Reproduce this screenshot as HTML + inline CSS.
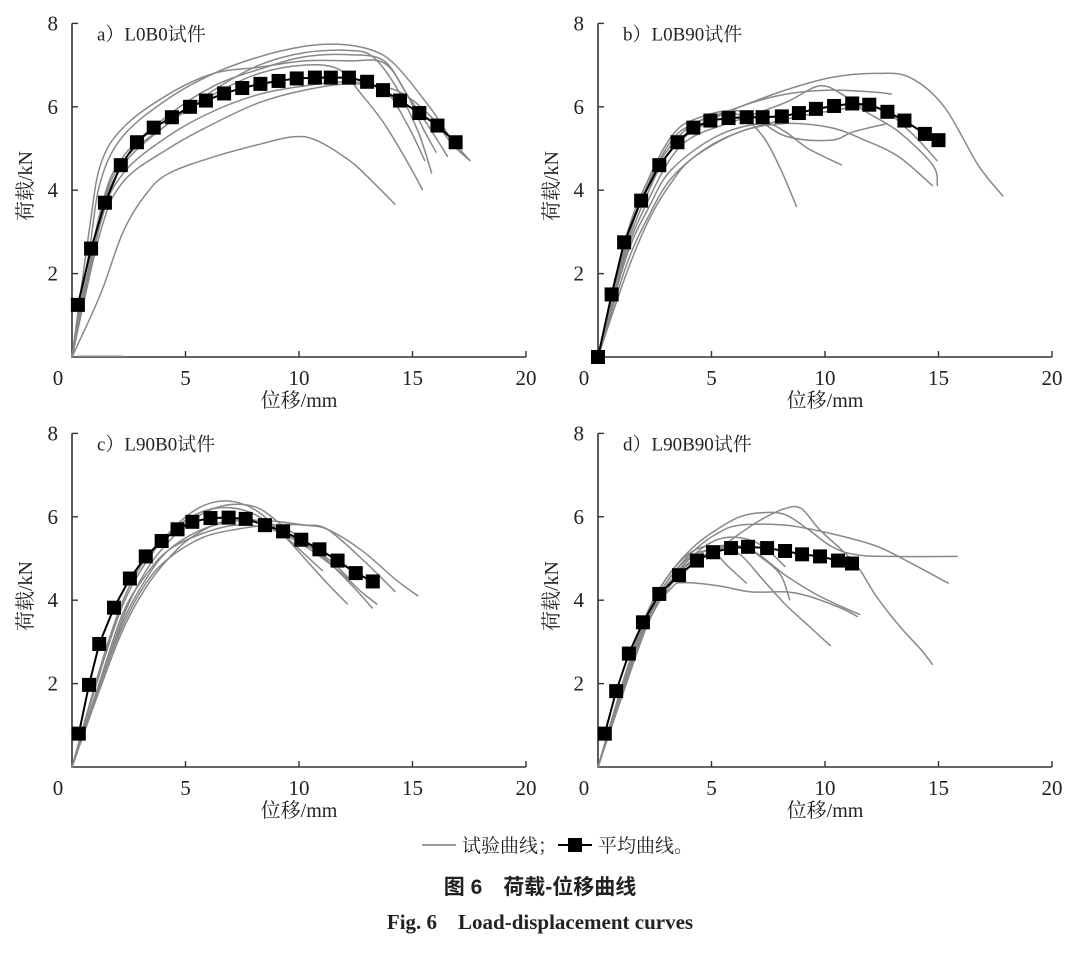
<!DOCTYPE html>
<html><head><meta charset="utf-8"><style>
body{margin:0;background:#fff}
svg text{font-family:"Liberation Serif","Noto Serif CJK SC",serif;fill:#222}
</style></head><body>
<svg id="fig" width="1080" height="952" viewBox="0 0 1080 952" xmlns="http://www.w3.org/2000/svg">
<g id="panels"></g>
<g>
<line x1="422" y1="845" x2="456" y2="845" stroke="#777" stroke-width="1.5"/>
<text x="462" y="852" font-size="19">试验曲线；</text>
<line x1="558" y1="845" x2="592" y2="845" stroke="#000" stroke-width="2"/>
<rect x="568" y="838" width="14" height="14" fill="#000"/>
<text x="598" y="852" font-size="19">平均曲线。</text>
</g>
<text x="540" y="894" font-size="21" font-weight="bold" text-anchor="middle" style="font-family:'Liberation Sans','Noto Sans CJK SC',sans-serif">图 6　荷载-位移曲线</text>
<text x="540" y="929" font-size="21" font-weight="bold" text-anchor="middle">Fig. 6　Load-displacement curves</text>
</svg>
<script>
const panelTitles=["a）L0B0试件","b）L0B90试件","c）L90B0试件","d）L90B90试件"];
const xTicks=[0,5,10,15,20];
const yTicks=[2,4,6,8];
const avgA_x=[0.26,0.84,1.45,2.15,2.86,3.6,4.4,5.2,5.9,6.7,7.5,8.3,9.1,9.9,10.7,11.4,12.2,13,13.7,14.45,15.3,16.1,16.9];
const avgA_y=[1.25,2.6,3.7,4.6,5.15,5.5,5.75,6,6.15,6.32,6.45,6.55,6.62,6.68,6.7,6.7,6.7,6.6,6.4,6.15,5.85,5.55,5.15];
const avgB_x=[0,0.6,1.15,1.9,2.7,3.5,4.2,4.95,5.75,6.55,7.25,8.1,8.85,9.6,10.4,11.2,11.95,12.75,13.5,14.4,15];
const avgB_y=[0,1.5,2.75,3.75,4.6,5.15,5.5,5.67,5.73,5.75,5.75,5.77,5.85,5.95,6.02,6.08,6.05,5.88,5.67,5.35,5.2];
const avgC_x=[0.3,0.75,1.2,1.85,2.55,3.25,3.95,4.65,5.3,6.1,6.9,7.65,8.5,9.3,10.1,10.9,11.7,12.5,13.25];
const avgC_y=[0.8,1.97,2.95,3.82,4.52,5.05,5.42,5.7,5.88,5.97,5.98,5.95,5.8,5.65,5.45,5.22,4.95,4.65,4.45];
const avgD_x=[0.3,0.8,1.36,1.98,2.7,3.57,4.36,5.07,5.86,6.61,7.45,8.24,8.99,9.78,10.57,11.19];
const avgD_y=[0.8,1.82,2.72,3.47,4.15,4.6,4.95,5.15,5.25,5.28,5.25,5.18,5.1,5.05,4.95,4.88];
const testA=[
[[0,0],[0.5,2.5],[1,4.2],[2,5.3],[4,6.2],[6,6.8],[8,7.2],[10,7.45],[11.5,7.5],[13,7.35],[14,7.0],[15.5,6.0],[16.5,5.2],[17.3,4.7]],
[[0,0],[0.5,3],[1,4.6],[2,5.5],[4,6.3],[6,6.8],[8,6.95],[10,7.1],[12,7.1],[13.5,7.05],[14.5,6.3],[15.2,5.5],[15.8,4.9]],
[[0,0],[1,3.5],[2,4.8],[4,5.8],[6,6.5],[8,6.9],[10,7.2],[12,7.25],[13.5,7.1],[14.5,6.3],[15.5,5.5],[16.3,4.8]],
[[0,0],[1,3.3],[2,4.6],[4,5.6],[6,6.3],[8,6.8],[10,7],[11.5,6.9],[12.5,6.3],[13.5,5.6],[14.5,4.7],[15.2,4.0]],
[[0,0],[1,3.2],[2,4.4],[4,5.3],[6,5.9],[8,6.3],[10,6.5],[12,6.6],[13.5,6.4],[14.5,5.6],[15.3,4.7]],
[[0,0],[1,3],[2,4.2],[4,5.0],[6,5.6],[8,6.1],[10,6.4],[12,6.55],[14,6.4],[15.5,5.8],[16.5,5.1],[17.3,4.7]],
[[0,0],[1,1.5],[2,3],[3,3.9],[4,4.4],[6,4.8],[8,5.1],[9.5,5.28],[10.5,5.2],[12,4.7],[13,4.2],[14,3.65]],
[[0,0],[1,3.4],[2,4.7],[4,5.6],[6,6.4],[8,7],[10,7.3],[12,7.35],[13,7.2],[14,6.5],[15,5.4],[15.6,4.4]],
[[0,0.02],[2,0.02]]];
const testB=[
[[0,0],[1,2.8],[2,4.2],[3,5.2],[4,5.6],[6,6],[8,6.4],[10,6.7],[12,6.8],[13.5,6.7],[15,6.0],[16.5,4.6],[17.6,3.85]],
[[0,0],[1,2.7],[2,4.2],[3,5.1],[4,5.6],[5,5.8],[6,5.8],[7,5.3],[7.8,4.5],[8.5,3.6]],
[[0,0],[1,2.5],[2,3.8],[3,4.8],[4,5.3],[6,5.7],[8,6.1],[9.5,6.5],[10.5,6.3],[11.5,5.9],[13,5.4],[14.5,4.6],[14.7,4.1]],
[[0,0],[1,2.4],[2,3.6],[3,4.5],[5,5.3],[7,5.6],[8,5.4],[9,5.0],[10.5,4.6]],
[[0,0],[1,2],[2,3.3],[3,4.2],[4,4.8],[6,5.4],[8,5.6],[10,5.5],[11.5,5.2],[13,4.8],[14.5,4.1]],
[[0,0],[1,2.9],[2,4.3],[3,5.3],[4,5.7],[6,5.9],[8,5.3],[10,5.2],[11,5.4],[12.5,5.6]],
[[0,0],[1,2.6],[2,4],[3,5],[4.5,5.6],[6,6],[8,6.3],[10,6.4],[12,6.35],[12.7,6.3]],
[[0,0],[1,2.2],[2,3.4],[3,4.3],[4.5,5],[6,5.4],[8,5.7],[10,5.9],[12,6.0],[13.5,5.4],[14.7,4.7]]];
const testC=[
[[0,0],[1,2.3],[2,3.9],[3,4.9],[4,5.6],[5,6.1],[6,6.35],[7,6.35],[8,6.1],[9,5.6],[10,5],[11,4.4],[11.9,3.9]],
[[0,0],[1,2],[2,3.6],[3,4.7],[4,5.4],[5,5.9],[6,6.2],[7,6.3],[8,6.2],[9,5.8],[10.5,5.2],[12,4.4],[13,3.8]],
[[0,0],[1,2],[2,3.5],[3,4.5],[4,5.2],[5.5,5.7],[7,5.9],[8.5,5.9],[10,5.8],[11,5.7],[12.5,5.2],[14,4.5],[15,4.1]],
[[0,0],[1,2.1],[2,3.7],[3,4.6],[4,5.2],[5.5,5.6],[7,5.8],[8.5,5.7],[10,5.3],[11.5,4.7],[12.5,4.2],[13.2,3.9]],
[[0,0],[1,2],[2,3.4],[3,4.4],[4,5.0],[5.5,5.5],[7,5.7],[8.5,5.8],[10,5.8],[11,5.7],[12.5,5.0],[14,4.2]],
[[0,0],[1,2.4],[2,4],[3,5.0],[4,5.6],[5,6],[6,6.2],[7,6.2],[8,6],[9,5.6],[10,5.1],[10.8,4.7]],
[[0,0],[1,1.9],[2,3.3],[3,4.3],[4,5],[5,5.5],[6.5,5.9],[8,5.9],[9.5,5.5],[11,5],[12,4.5]]];
const testD=[
[[0,0],[1,2],[2,3.5],[3,4.4],[4,4.9],[5,5.2],[6,5.6],[7,5.95],[8,6.2],[8.7,6.2],[9.5,5.7],[10.5,5.2],[11.2,4.8],[12,4.1],[13,3.4],[14,2.8],[14.5,2.45]],
[[0,0],[1,2.3],[2,3.8],[3,4.7],[4,5.3],[5,5.7],[6,6],[7,6.1],[8,6.05],[9,5.7],[10,5.3],[11,5.1],[12.5,5.05],[15.6,5.05]],
[[0,0],[1,2.2],[2,3.7],[3,4.6],[4,5.2],[5,5.6],[6,5.8],[8,5.8],[10,5.6],[12,5.3],[13.5,4.9],[15.2,4.4]],
[[0,0],[1,2.2],[2,3.6],[3,4.3],[3.5,4.42],[5,4.35],[6.5,4.2],[8,4.2],[9,4.1],[10.5,3.8],[11.2,3.6]],
[[0,0],[1,2.3],[2,3.8],[3,4.7],[4,5.2],[5,5.3],[6,5.1],[7,4.5],[8,3.9],[9,3.4],[10,2.9]],
[[0,0],[1,2.1],[2,3.6],[3,4.5],[4,5],[5,5.3],[6.5,5.2],[8,4.6],[9.5,4.1],[11.3,3.65]],
[[0,0],[1,2.2],[2,3.7],[3,4.6],[4,5.1],[4.8,5.15],[5.5,4.8],[6.3,4.4]],
[[0,0],[1,2.1],[2,3.6],[3,4.5],[4.5,5.1],[6,5.3],[7,5.0],[7.8,4.6],[8.2,4.0]],
[[0,0],[1,2.1],[2,3.6],[3,4.5],[4,5.1],[5,5.45],[6,5.5],[7,5.3],[8,4.8]]];

const NS="http://www.w3.org/2000/svg";
const root=document.getElementById('panels');
const panels=[
 {x0:72,y0:357,tests:testA,ax:avgA_x,ay:avgA_y,key:'a'},
 {x0:598,y0:357,tests:testB,ax:avgB_x,ay:avgB_y,key:'b'},
 {x0:72,y0:767,tests:testC,ax:avgC_x,ay:avgC_y,key:'c'},
 {x0:598,y0:767,tests:testD,ax:avgD_x,ay:avgD_y,key:'d'}];
const PXX=22.7, PXY=41.7;
function mk(tag,attrs,parent){const e=document.createElementNS(NS,tag);for(const k in attrs)e.setAttribute(k,attrs[k]);parent.appendChild(e);return e;}
function smooth(pts){
 let d='M'+pts[0][0].toFixed(1)+','+pts[0][1].toFixed(1);
 for(let i=0;i<pts.length-1;i++){
  const p0=pts[Math.max(0,i-1)],p1=pts[i],p2=pts[i+1],p3=pts[Math.min(pts.length-1,i+2)];
  const c1=[p1[0]+(p2[0]-p0[0])/6,p1[1]+(p2[1]-p0[1])/6];
  const c2=[p2[0]-(p3[0]-p1[0])/6,p2[1]-(p3[1]-p1[1])/6];
  d+=' C'+c1.map(v=>v.toFixed(1)).join(',')+' '+c2.map(v=>v.toFixed(1)).join(',')+' '+p2.map(v=>v.toFixed(1)).join(',');
 }
 return d;
}
panels.forEach((p,pi)=>{
 const sx=v=>p.x0+v*PXX, sy=v=>p.y0-v*PXY;
 const g=mk('g',{},root);
 
 
 const axis=mk('path',{d:`M${p.x0},${sy(8)} V${p.y0} H${sx(20)}`,fill:'none',stroke:'#333','stroke-width':1.6},g);
 
 
 xTicks.forEach(t=>{
  if(t>0){const l=mk('line',{x1:sx(t),x2:sx(t),y1:p.y0,y2:p.y0-6,stroke:'#333','stroke-width':1.4},g);
  
  }
  const tx=mk('text',{x:sx(t)+(t==0?-14:0),y:p.y0+28,'font-size':21,'text-anchor':'middle'},g);tx.textContent=t;
  
  
 });
 yTicks.forEach(t=>{
  const l=mk('line',{x1:p.x0,x2:p.x0+6,y1:sy(t),y2:sy(t),stroke:'#333','stroke-width':1.4},g);
  
  
  const tx=mk('text',{x:p.x0-14,y:sy(t)+7,'font-size':21,'text-anchor':'end'},g);tx.textContent=t;
  
  
 });
 const xl=mk('text',{x:sx(10),y:p.y0+50,'font-size':20,'text-anchor':'middle'},g);xl.textContent='位移/mm';
 
 
 const yl=mk('text',{x:0,y:0,'font-size':20,'text-anchor':'middle',transform:`translate(${p.x0-40},${sy(4.1)}) rotate(-90)`},g);yl.textContent='荷载/kN';
 
 
 const tt=mk('text',{x:p.x0+25,y:sy(8)+17,'font-size':19},g);tt.textContent=panelTitles[pi];
 
 
 p.tests.forEach(c=>{
  const pts=c.map(q=>[sx(q[0]+0.25*(q[1]>0?1:0)),sy(q[1])]);
  const path=mk('path',{d:smooth(pts),fill:'none',stroke:'#888','stroke-width':1.5},g);
  
  
 });
 const apts=p.ax.map((v,i)=>[sx(v),sy(p.ay[i])]);
 const al=mk('path',{d:'M'+apts.map(q=>q.join(',')).join(' L'),fill:'none',stroke:'#000','stroke-width':2},g);
 
 
 apts.forEach(q=>{
  const r=mk('rect',{x:q[0]-7,y:q[1]-7,width:14,height:14,fill:'#000'},g);
  
  
 });
});
</script>
</body></html>
